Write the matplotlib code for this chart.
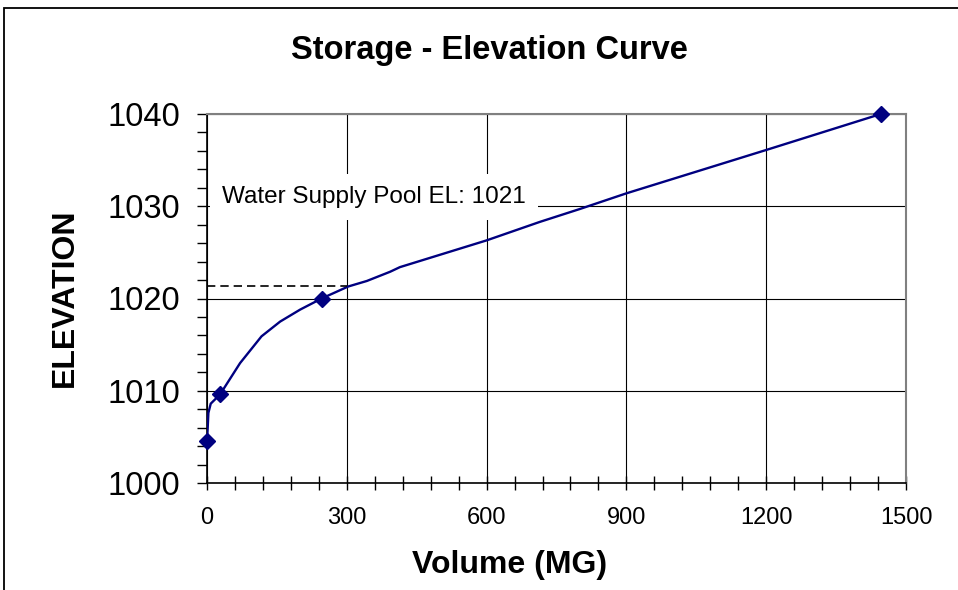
import matplotlib
matplotlib.use('Agg')
import matplotlib.pyplot as plt
from matplotlib.ticker import MultipleLocator
from matplotlib.patches import Rectangle

plt.rcParams['font.family'] = ['Liberation Sans', 'DejaVu Sans']

# 数据: 库容-水位曲线
curve_volume = [0, 1.5, 3, 8, 28, 71, 117, 157, 200, 246, 303, 343, 393, 414,
                600, 714, 800, 900, 1200, 1446]
curve_elev = [1004.6, 1006.0, 1007.6, 1008.6, 1009.6, 1013.0, 1015.9, 1017.5,
              1018.8, 1020.0, 1021.3, 1021.9, 1022.9, 1023.4, 1026.3, 1028.3,
              1029.7, 1031.4, 1036.1, 1040.0]
point_volume = [0, 28, 246, 1446]
point_elev = [1004.6, 1009.6, 1020.0, 1040.0]
pool_volume = [0, 300]
pool_elev = [1021.4, 1021.4]
pool_label = 'Water Supply Pool EL: 1021'

fig = plt.figure(figsize=(9.58, 5.90), dpi=100)
ax = fig.add_axes([207/958, 1 - 483/590, (906-207)/958, (483-114)/590])

# 外框
fig.patches.append(Rectangle((4/958, -0.1), 1.2, 1.1 - 8/590,
                             transform=fig.transFigure, fill=False,
                             edgecolor='black', linewidth=1.3))

ax.plot(curve_volume, curve_elev, '-', color='#000080', linewidth=1.7, zorder=3)
ax.plot(point_volume, point_elev, 'D', color='#000080', markersize=8,
        clip_on=False, zorder=4)
ax.plot(pool_volume, pool_elev, '--', color='black', linewidth=1.2,
        dashes=(5, 3), zorder=3)

ax.text(32, 1031.0, pool_label, fontsize=17.5, va='center', ha='left', zorder=6,
        bbox=dict(boxstyle='square,pad=0.5', facecolor='white', edgecolor='none'))

ax.set_xlim(0, 1500)
ax.set_ylim(1000, 1040)
ax.xaxis.set_major_locator(MultipleLocator(300))
ax.xaxis.set_minor_locator(MultipleLocator(60))
ax.yaxis.set_major_locator(MultipleLocator(10))
ax.yaxis.set_minor_locator(MultipleLocator(2))

ax.grid(True, which='major', color='black', linewidth=0.8)
ax.set_axisbelow(True)

ax.tick_params(axis='x', which='both', direction='inout', length=10, width=1,
               labelsize=17, pad=12)
ax.tick_params(axis='y', which='both', direction='out', length=7.5, width=1,
               labelsize=23.5, pad=12)

for side in ['top', 'right']:
    ax.spines[side].set_color('#808080')
    ax.spines[side].set_linewidth(1.5)
for side in ['left', 'bottom']:
    ax.spines[side].set_color('black')
    ax.spines[side].set_linewidth(1.2)

fig.text(510/958, 1 - 565/590, 'Volume (MG)', fontsize=23, fontweight='bold',
         ha='center', va='center')
fig.text(65/958, 1 - 298/590, 'ELEVATION', fontsize=23, fontweight='bold',
         ha='center', va='center', rotation=90)
fig.text(489/958, 1 - 50/590, 'Storage - Elevation Curve', fontsize=23.5,
         fontweight='bold', ha='center', va='center')

plt.savefig('out.png', dpi=100)
